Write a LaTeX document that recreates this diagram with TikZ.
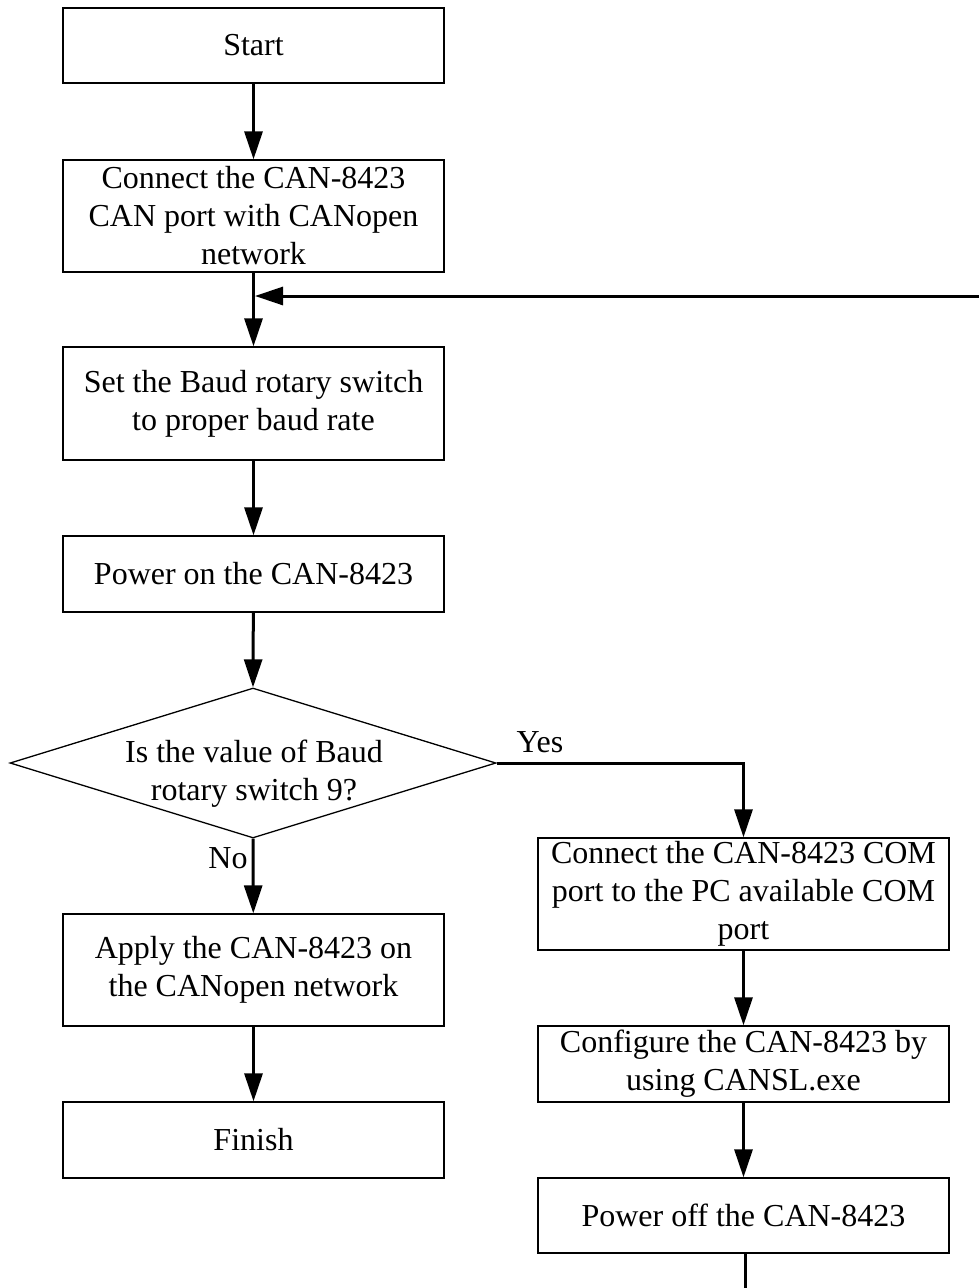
\documentclass[tikz,border=0pt]{standalone}
\usepackage{fontspec}
\setmainfont{Liberation Serif}
\usetikzlibrary{arrows.meta,shapes.geometric}
\begin{document}
\begin{tikzpicture}[x=1pt,y=-1pt,
  box/.style={draw,line width=1.3pt,rectangle,minimum width=381pt,inner sep=0pt,align=center,font=\fontsize{32}{38}\selectfont},
  rbox/.style={box,minimum width=411pt},
  dec/.style={draw,line width=1.3pt,diamond,aspect=3.24,minimum width=486pt,minimum height=150pt,inner sep=0pt},
  lbl/.style={font=\fontsize{32}{38}\selectfont,inner sep=0pt,align=center},
  conn/.style={line width=3pt,-{Triangle[width=18pt,length=28pt]}},
  plain/.style={line width=3pt}]
\useasboundingbox (0,0) rectangle (979,1288);
\node[box,minimum height=75pt] (start) at (253.5,45.5) {Start};
\node[box,minimum height=112pt] (connect) at (253.5,216) {Connect the CAN-8423\\CAN port with CANopen\\network};
\node[box,minimum height=113pt] (baud) at (253.5,403.5) {Set the Baud rotary switch\\to proper baud rate};
\node[box,minimum height=76pt] (pwr) at (253.5,574) {Power on the CAN-8423};
\node[dec] (dia) at (253,763) {};
\node[lbl] (diatext) at (254,774) {Is the value of Baud\\rotary switch 9?};
\node[box,minimum height=112pt] (apply) at (253.5,970) {Apply the CAN-8423 on\\the CANopen network};
\node[box,minimum height=76pt] (finish) at (253.5,1140) {Finish};
\node[rbox,minimum height=112pt] (com) at (743.5,894) {Connect the CAN-8423 COM\\port to the PC available COM\\port};
\node[rbox,minimum height=76pt] (cfg) at (743.5,1064) {Configure the CAN-8423 by\\using CANSL.exe};
\node[rbox,minimum height=75pt] (off) at (743.5,1215.5) {Power off the CAN-8423};
\node[lbl] (yes) at (540,742) {Yes};
\node[lbl] (no) at (228,858) {No};
\coordinate (fbin) at (979,296);
\coordinate (fbtip) at (255,296);
\coordinate (yescorner) at (743.5,763);
\coordinate (offend) at (745,1288);
\draw[conn] (start) -- (connect);
\draw[conn] (connect) -- (baud);
\draw[conn] (fbin) -- (fbtip);
\draw[conn] (baud) -- (pwr);
\draw[conn] (pwr) -- (dia.north);
\draw[conn] (dia.south) -- (apply);
\draw[conn] (apply) -- (finish);
\draw[conn] (dia.east) -- (yescorner) -- (com.north);
\draw[conn] (com) -- (cfg);
\draw[conn] (cfg) -- (off);
\draw[plain] (off.south -| offend) -- (offend);
\end{tikzpicture}
\end{document}
